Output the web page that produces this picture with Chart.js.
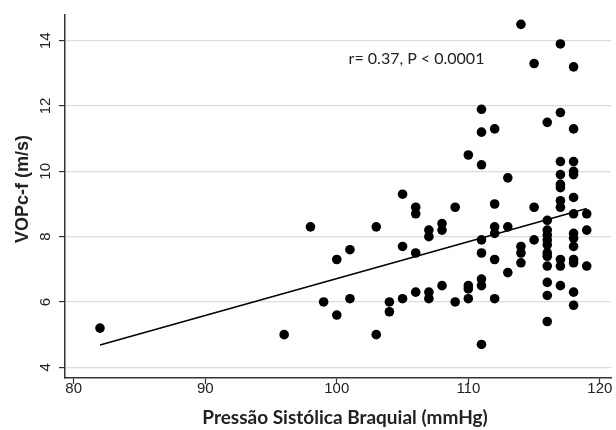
<!DOCTYPE html>
<html lang="pt">
<head>
<meta charset="UTF-8">
<title>VOPc-f x Pressão Sistólica Braquial</title>
<script src="https://cdn.jsdelivr.net/npm/chart.js"></script>
<style>
  html, body { margin: 0; padding: 0; background: #fff; }
  #grafico { display: block; }
</style>
</head>
<body>
<canvas id="grafico" width="616" height="430"></canvas>
<script>
// pressão sistólica braquial (mmHg) e VOPc-f (m/s), um ponto por paciente
const pressao = [
  82, 96, 98, 99, 100, 100, 101, 101, 103, 103, 104, 104,
  105, 105, 105, 106, 106, 106, 106, 107, 107, 107, 107,
  108, 108, 108, 109, 109, 110, 110, 110, 110,
  111, 111, 111, 111, 111, 111, 111, 111,
  112, 112, 112, 112, 112, 112,
  113, 113, 113, 114, 114, 114, 114, 115, 115, 115,
  116, 116, 116, 116, 116, 116, 116, 116, 116, 116, 116, 116,
  117, 117, 117, 117, 117, 117, 117, 117, 117, 117, 117,
  118, 118, 118, 118, 118, 118, 118, 118, 118, 118, 118, 118, 118, 118,
  119, 119, 119
];
const vop = [
  5.2, 5.0, 8.3, 6.0, 7.3, 5.6, 7.6, 6.1, 8.3, 5.0, 6.0, 5.7,
  9.3, 7.7, 6.1, 8.9, 8.7, 7.5, 6.3, 8.2, 8.0, 6.3, 6.1,
  8.4, 8.2, 6.5, 8.9, 6.0, 10.5, 6.5, 6.4, 6.1,
  11.9, 11.2, 10.2, 7.9, 7.5, 6.7, 6.5, 4.7,
  11.3, 9.0, 8.3, 8.1, 7.3, 6.1,
  9.8, 8.3, 6.9, 14.5, 7.7, 7.5, 7.2, 13.3, 8.9, 7.9,
  11.5, 8.5, 8.2, 8.05, 7.9, 7.75, 7.5, 7.4, 7.1, 6.6, 6.2, 5.4,
  13.9, 11.8, 10.3, 9.9, 9.6, 9.5, 9.1, 8.9, 7.3, 7.1, 6.5,
  13.2, 11.3, 10.3, 10.0, 9.9, 9.2, 8.7, 8.1, 7.95, 7.7, 7.3, 7.2, 6.3, 5.9,
  8.7, 8.2, 7.1
];

// reta de regressão (extremos)
const retaX = [82, 119];
const retaY = [4.68, 8.86];

const xTicks = [80, 90, 100, 110, 120];
const yTicks = [4, 6, 8, 10, 12, 14];

const tituloX = 'Pressão Sistólica Braquial (mmHg)';
const tituloY = 'VOPc-f (m/s)';
const nota = 'r= 0.37, P < 0.0001';
const notaPos = [100.9, 13.45];

const pontos = pressao.map((p, i) => ({ x: p, y: vop[i] }));
const reta = retaX.map((p, i) => ({ x: p, y: retaY[i] }));

// textos desenhados à mão (rótulos do eixo y ficam girados)
const textos = {
  id: 'textos',
  afterDraw(chart) {
    const ctx = chart.ctx;
    const sx = chart.scales.x, sy = chart.scales.y;
    ctx.save();
    ctx.fillStyle = '#222';
    ctx.font = '15px "Liberation Sans", Arial, sans-serif';
    ctx.textAlign = 'center';
    ctx.textBaseline = 'middle';
    xTicks.forEach(v => ctx.fillText(String(v), sx.getPixelForValue(v), 389));
    yTicks.forEach(v => {
      ctx.save();
      ctx.translate(46, sy.getPixelForValue(v));
      ctx.rotate(-Math.PI / 2);
      ctx.fillText(String(v), 0, 0);
      ctx.restore();
    });

    ctx.font = 'bold 18px "Liberation Sans", Arial, sans-serif';
    ctx.save();
    ctx.translate(23, 189);
    ctx.rotate(-Math.PI / 2);
    ctx.fillText(tituloY, 0, 0);
    ctx.restore();

    ctx.font = 'bold 19px Lato, "Open Sans", sans-serif';
    ctx.fillText(tituloX, 345, 418);

    ctx.font = '16px Lato, "Open Sans", sans-serif';
    ctx.textAlign = 'left';
    ctx.fillText(nota, sx.getPixelForValue(notaPos[0]), sy.getPixelForValue(notaPos[1]));
    ctx.restore();
  }
};

new Chart(document.getElementById('grafico'), {
  type: 'scatter',
  data: {
    datasets: [{
      data: pontos,
      backgroundColor: '#000',
      borderWidth: 0,
      pointRadius: 4.8,
      pointHoverRadius: 4.8
    }, {
      type: 'line',
      data: reta,
      borderColor: '#000',
      borderWidth: 1.5,
      pointRadius: 0,
      fill: false
    }]
  },
  options: {
    responsive: false,
    animation: false,
    devicePixelRatio: 1,
    layout: { padding: { top: 15, right: 3, left: 0, bottom: 0 } },
    plugins: { legend: { display: false }, tooltip: { enabled: false } },
    scales: {
      x: {
        type: 'linear',
        min: 79.34,
        max: 120.86,
        afterBuildTicks: s => { s.ticks = xTicks.map(v => ({ value: v })); },
        afterFit: s => { s.height = 52; },
        ticks: { display: false },
        grid: { drawOnChartArea: false, drawTicks: true, tickLength: 6, tickColor: '#333', tickWidth: 1.2 },
        border: { color: '#333', width: 1.5 }
      },
      y: {
        type: 'linear',
        min: 3.672,
        max: 14.787,
        afterBuildTicks: s => { s.ticks = yTicks.map(v => ({ value: v })); },
        afterFit: s => { s.width = 65; },
        ticks: { display: false },
        grid: { color: '#dcdcdc', lineWidth: 1.2, drawTicks: true, tickLength: 6, tickColor: '#333', tickWidth: 1.2 },
        border: { color: '#333', width: 1.5 }
      }
    }
  },
  plugins: [textos]
});
</script>
</body>
</html>
